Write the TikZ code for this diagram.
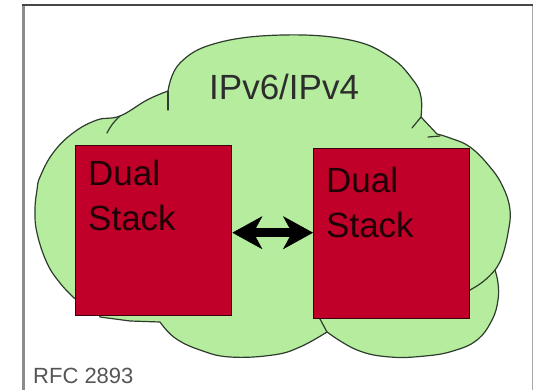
\documentclass[tikz,border=0pt]{standalone}
\usepackage{fontspec}
\setmainfont{Liberation Sans}
\usetikzlibrary{arrows.meta}

\definecolor{cloudgreen}{RGB}{181,236,158}
\definecolor{cloudline}{RGB}{45,60,45}
\definecolor{stackred}{RGB}{192,0,40}
\definecolor{stackline}{RGB}{60,0,15}
\definecolor{stacktext}{RGB}{30,0,6}
\definecolor{nettext}{RGB}{45,45,45}
\definecolor{reftext}{RGB}{85,85,85}

\tikzset{
  cloudshape/.style={fill=cloudgreen, draw=cloudline, line width=1.2pt, line join=round},
  cloudmark/.style={draw=cloudline, line width=1.2pt, line cap=round},
  stackbox/.style={fill=stackred, draw=stackline, line width=1.4pt,
    minimum width=156pt, minimum height=170pt, inner sep=0pt, anchor=north west},
  stacklabel/.style={text=stacktext, font=\fontsize{35}{45}\selectfont,
    align=left, inner sep=0pt, anchor=north west},
  netlabel/.style={text=nettext, font=\fontsize{35}{42}\selectfont, inner sep=0pt, anchor=base west},
  reflabel/.style={text=reftext, font=\fontsize{22}{26}\selectfont, inner sep=0pt, anchor=base west},
  linktip/.tip={Stealth[length=30pt,width=33pt,inset=9pt,line width=0.5pt]},
  link/.style={draw=black, line width=8.5pt, {linktip}-{linktip}},
}

\begin{document}
\begin{tikzpicture}[x=1pt,y=-1pt]
\useasboundingbox (0,0) rectangle (533,389);

% outer frame (open at the bottom)
\draw[line width=3pt, draw=black!45] (23,4) -- (23,395);
\draw[line width=1pt, draw=black!35] (532,4) -- (532,395);
\draw[line width=2pt, draw=black!72] (21.5,5) -- (533,5);

% network cloud
\path[cloudshape]
  (168,91)
  -- plot[smooth, tension=0.7] coordinates {(168,91) (180,63) (217,43) (283,35) (350,40) (390,57) (413,80) (421,97) (421,117)}
  -- (437,134)
  -- plot[smooth, tension=0.7] coordinates {(437,134) (450,138) (470,147) (490,167) (503,187) (510,210) (508,233) (502,257) (495,270)}
  -- plot[smooth, tension=0.7] coordinates {(495,270) (498,283) (498,300) (492,320) (477,340) (453,351) (425,356) (390,357) (357,350) (327,332)}
  -- plot[smooth, tension=0.7] coordinates {(327,332) (300,347) (273,355) (230,357) (200,350) (175,338) (160,322)}
  -- (130,321) -- (100,317) -- (98,312) -- (74,298)
  -- plot[smooth, tension=0.7] coordinates {(74,298) (60,283) (47,263) (37,233) (35,210) (37,190) (40,177) (53,153) (73,133) (97,120) (120,116) (147,100) (168,91)}
  -- cycle;

% small seams inside the cloud
\draw[cloudmark] (168,91) -- (168,110);
\draw[cloudmark] (120,116) to[bend right=10] (107,133);
\draw[cloudmark] (421,117) -- (412,128);
\draw[cloudmark] (428,137) -- (440,136);
\draw[cloudmark] (495,270) to[bend left=10] (470,290);
\draw[cloudmark] (327,332) -- (320,319);

% dual stack hosts
\node[stackbox] (L) at (75,145) {};
\node[stackbox] (R) at (313,148) {};

\node[stacklabel] (Ltext) at (88,160) {Dual\\Stack};
\node[stacklabel] (Rtext) at (326,167) {Dual\\Stack};

% link between the hosts
\draw[link] ([yshift=-2pt]L.east) -- ([yshift=1pt]R.west);

% labels
\node[netlabel] (net) at (209,99.5) {IPv6/IPv4};
\node[reflabel] (ref) at (33,383) {RFC 2893};
\end{tikzpicture}
\end{document}
